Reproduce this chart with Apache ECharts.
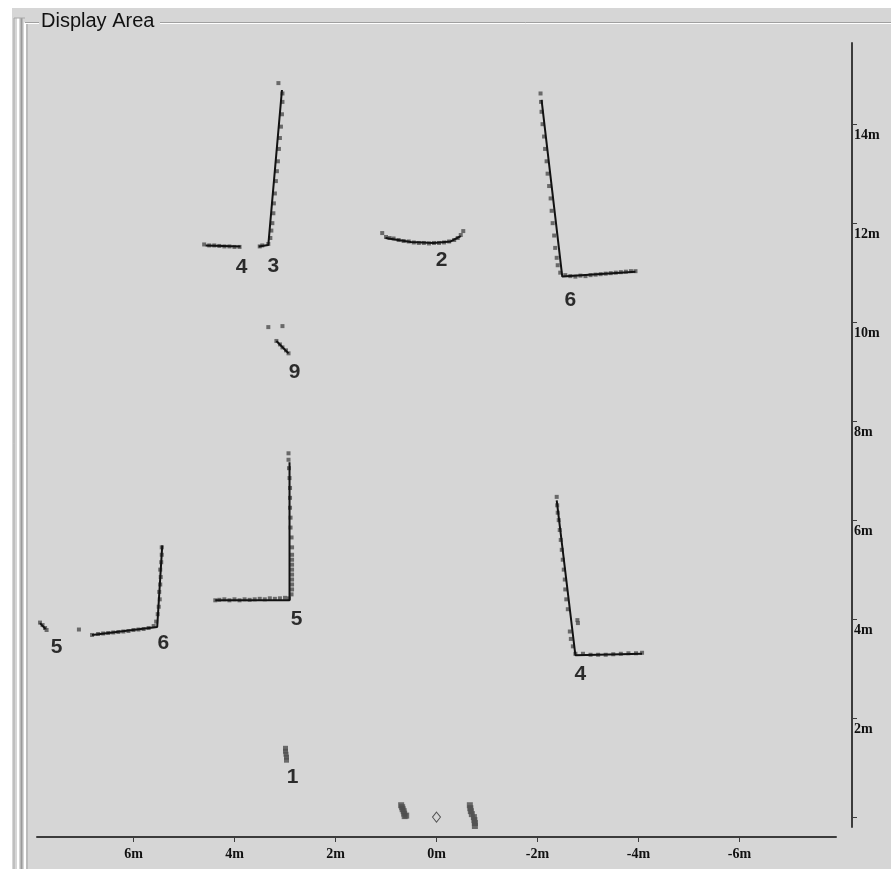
<!DOCTYPE html>
<html>
<head>
<meta charset="utf-8">
<script src="https://cdn.jsdelivr.net/npm/echarts@6.0.0/dist/echarts.min.js"></script>
<style>
html,body{margin:0;padding:0;background:#fff;}
#c{width:891px;height:869px;}
</style>
</head>
<body>
<div id="c"></div>
<script>
// ---- data (metres; x positive to the left) ----
var xTicks = [-6, -4, -2, 0, 2, 4, 6];
var yTicks = [0, 2, 4, 6, 8, 10, 12, 14];
var yTickLabels = [2, 4, 6, 8, 10, 12, 14];

var pts3 = [[3.13,14.83],[3.05,14.62],[3.05,14.45],[3.06,14.2],[3.08,13.95],[3.1,13.72],[3.12,13.5],[3.14,13.25],[3.16,13.05],[3.18,12.85],[3.2,12.6],[3.22,12.4],[3.23,12.2],[3.25,12.0],[3.27,11.85],[3.29,11.7],[3.33,11.58],[3.45,11.55],[3.5,11.53]];
var pts4a = [[4.6,11.57],[4.5,11.55],[4.4,11.55],[4.3,11.54],[4.2,11.53],[4.1,11.53],[4.0,11.52],[3.9,11.52]];
var pts2 = [[1.075,11.80],[1.0,11.72],[0.93,11.70],[0.85,11.69],[0.75,11.66],[0.65,11.64],[0.55,11.63],[0.45,11.61],[0.35,11.60],[0.25,11.60],[0.15,11.59],[0.05,11.60],[-0.05,11.60],[-0.15,11.61],[-0.25,11.63],[-0.35,11.66],[-0.42,11.70],[-0.48,11.76],[-0.53,11.84]];
var pts6a = [[-2.06,14.62],[-2.07,14.45],[-2.08,14.25],[-2.1,14.0],[-2.13,13.75],[-2.15,13.5],[-2.18,13.25],[-2.2,13.0],[-2.23,12.75],[-2.26,12.5],[-2.28,12.25],[-2.3,12.0],[-2.33,11.75],[-2.35,11.5],[-2.38,11.3],[-2.4,11.15],[-2.45,11.0],[-2.55,10.95],[-2.65,10.93],[-2.75,10.92],[-2.85,10.94],[-2.95,10.93],[-3.05,10.95],[-3.15,10.96],[-3.25,10.97],[-3.35,10.98],[-3.45,10.99],[-3.55,11.0],[-3.65,11.01],[-3.75,11.02],[-3.85,11.03],[-3.94,11.03]];
var pts9 = [[3.33,9.90],[3.05,9.92],[3.17,9.62],[3.1,9.55],[3.05,9.49],[2.98,9.43],[2.93,9.37]];
var pts5a = [[2.93,7.35],[2.93,7.22],[2.92,7.05],[2.91,6.85],[2.9,6.65],[2.9,6.45],[2.9,6.25],[2.89,6.05],[2.89,5.85],[2.87,5.65],[2.86,5.45],[2.86,5.3],[2.86,5.2],[2.86,5.1],[2.86,5.0],[2.86,4.9],[2.86,4.8],[2.86,4.7],[2.86,4.6],[2.87,4.5],[2.92,4.42],[3.0,4.43],[3.1,4.42],[3.2,4.41],[3.3,4.42],[3.4,4.40],[3.5,4.41],[3.6,4.40],[3.7,4.39],[3.8,4.40],[3.9,4.38],[4.0,4.40],[4.1,4.38],[4.2,4.40],[4.3,4.39],[4.38,4.38]];
var pts6b = [[5.44,5.45],[5.44,5.3],[5.45,5.15],[5.47,5.0],[5.46,4.85],[5.47,4.7],[5.49,4.55],[5.48,4.4],[5.5,4.25],[5.52,4.1],[5.55,3.95],[5.6,3.86],[5.7,3.82],[5.8,3.80],[5.9,3.79],[6.0,3.78],[6.1,3.76],[6.2,3.75],[6.3,3.74],[6.4,3.73],[6.5,3.72],[6.6,3.71],[6.7,3.70],[6.82,3.68],[7.08,3.79]];
var pts5b = [[7.85,3.93],[7.8,3.88],[7.75,3.82],[7.72,3.78]];
var pts4b = [[-2.38,6.47],[-2.39,6.3],[-2.40,6.15],[-2.42,6.0],[-2.44,5.8],[-2.46,5.6],[-2.48,5.4],[-2.5,5.2],[-2.52,5.0],[-2.54,4.8],[-2.55,4.6],[-2.57,4.4],[-2.6,4.2],[-2.79,3.98],[-2.8,3.92],[-2.64,3.75],[-2.66,3.6],[-2.7,3.45],[-2.75,3.3],[-2.9,3.3],[-3.05,3.28],[-3.2,3.28],[-3.35,3.28],[-3.5,3.29],[-3.65,3.3],[-3.8,3.31],[-3.95,3.31],[-4.07,3.32]];
var pts1 = [[2.99,1.39],[2.99,1.33],[2.98,1.27],[2.97,1.21],[2.97,1.15]];
var ptsNearL = [[0.70,0.24],[0.68,0.20],[0.67,0.16],[0.65,0.12],[0.64,0.07],[0.63,0.02],[0.60,0.03]];
var ptsNearR = [[-0.66,0.24],[-0.67,0.18],[-0.68,0.12],[-0.70,0.06],[-0.74,0.0],[-0.75,-0.06],[-0.76,-0.12],[-0.76,-0.18],[-0.77,-0.22]];

var line3 = [[3.06,14.69],[3.33,11.56],[3.52,11.53]];
var line4a = [[4.57,11.55],[3.88,11.53]];
var line2 = [[1.01,11.70],[0.51,11.62],[0.06,11.60],[-0.28,11.63],[-0.48,11.74]];
var line6a = [[-2.08,14.49],[-2.49,10.92],[-3.94,11.02]];
var line9 = [[3.17,9.62],[2.93,9.37]];
var line5a = [[2.91,7.17],[2.91,4.38],[4.38,4.38]];
var line6b = [[5.43,5.49],[5.53,3.84],[6.82,3.68]];
var line5b = [[7.85,3.92],[7.74,3.80]];
var line4b = [[-2.38,6.40],[-2.75,3.27],[-4.07,3.30]];

var sensor = [[0, 0]];

var labelText = ['4','3','2','6','9','5','5','6','4','1'];
var labelX = [3.86, 3.23, -0.10, -2.65, 2.81, 2.77, 7.52, 5.41, -2.85, 2.85];
var labelY = [11.11, 11.13, 11.25, 10.44, 8.99, 4.00, 3.43, 3.52, 2.89, 0.81];

// ---- chart ----
var chart = echarts.init(document.getElementById('c'), null, {renderer: 'canvas'});

var ptStyle = {color: '#4e4e4e'};
function ptSeries(d, size) {
  return {type: 'scatter', data: d, symbol: 'rect', symbolSize: size || 4,
    itemStyle: ptStyle, silent: true, animation: false, z: 2};
}
function lnSeries(d) {
  return {type: 'line', data: d, showSymbol: false, symbol: 'none',
    lineStyle: {color: '#121212', width: 2}, silent: true, animation: false, z: 3};
}
var labelData = labelText.map(function (t, i) { return {name: t, value: [labelX[i], labelY[i]]}; });

var series = [
  ptSeries(pts3), ptSeries(pts4a), ptSeries(pts2), ptSeries(pts6a), ptSeries(pts9),
  ptSeries(pts5a), ptSeries(pts6b), ptSeries(pts5b), ptSeries(pts4b),
  ptSeries(pts1, 5), ptSeries(ptsNearL, 6), ptSeries(ptsNearR, 6),
  lnSeries(line3), lnSeries(line4a), lnSeries(line2), lnSeries(line6a), lnSeries(line9),
  lnSeries(line5a), lnSeries(line6b), lnSeries(line5b), lnSeries(line4b),
  {type: 'scatter', data: sensor, symbol: 'diamond', symbolSize: [8, 10],
    itemStyle: {color: 'rgba(0,0,0,0)', borderColor: '#333', borderWidth: 1}, silent: true, animation: false, z: 4},
  {type: 'scatter', data: labelData, symbol: 'circle', symbolSize: 1,
    itemStyle: {color: 'rgba(0,0,0,0)'}, silent: true, animation: false, z: 5,
    label: {show: true, position: 'inside', formatter: function (p) { return p.name; },
      color: '#000', fontFamily: 'Liberation Sans, Arial, sans-serif', fontWeight: 'bold', fontSize: 21}}
];

var axisFont = {color: '#111', fontFamily: 'Liberation Serif, DejaVu Serif, serif', fontWeight: 'bold', fontSize: 14};

chart.setOption({
  backgroundColor: '#d6d6d6',
  animation: false,
  grid: {left: 37, right: 55, top: 43, bottom: 42, containLabel: false},
  xAxis: {
    type: 'value', min: -7.91, max: 7.91, inverse: true, position: 'bottom', offset: 10,
    axisLine: {show: true, onZero: false, lineStyle: {color: '#3c3c3c', width: 2}},
    axisTick: {show: true, length: 5, inside: false, customValues: xTicks, lineStyle: {color: '#3c3c3c', width: 1}},
    axisLabel: Object.assign({show: true, margin: 10, customValues: xTicks,
      formatter: function (v) { return v + 'm'; }}, axisFont),
    splitLine: {show: false}
  },
  yAxis: {
    type: 'value', min: -0.2, max: 15.64, position: 'right', offset: 16,
    axisLine: {show: true, onZero: false, lineStyle: {color: '#3c3c3c', width: 2}},
    axisTick: {show: true, length: 5, inside: false, customValues: yTicks, lineStyle: {color: '#3c3c3c', width: 1}},
    axisLabel: Object.assign({show: true, margin: 2, customValues: yTickLabels, verticalAlign: 'top', padding: [4, 0, 0, 0],
      formatter: function (v) { return v + 'm'; }}, axisFont),
    splitLine: {show: false}
  },
  graphic: [
    {type: 'rect', shape: {x: 0, y: 0, width: 891, height: 8}, style: {fill: '#ffffff'}, silent: true},
    {type: 'rect', shape: {x: 0, y: 0, width: 12, height: 869}, style: {fill: '#ffffff'}, silent: true},
    {type: 'line', shape: {x1: 14, y1: 18, x2: 14, y2: 869}, style: {stroke: '#a8a8a8', lineWidth: 1}, silent: true},
    {type: 'line', shape: {x1: 18, y1: 18, x2: 18, y2: 869}, style: {stroke: '#ffffff', lineWidth: 2}, silent: true},
    {type: 'line', shape: {x1: 21.5, y1: 18, x2: 21.5, y2: 869}, style: {stroke: '#9a9a9a', lineWidth: 2}, silent: true},
    {type: 'line', shape: {x1: 14, y1: 18, x2: 25, y2: 18}, style: {stroke: '#a8a8a8', lineWidth: 1}, silent: true},
    {type: 'line', shape: {x1: 25, y1: 22.5, x2: 25, y2: 869}, style: {stroke: '#ffffff', lineWidth: 2}, silent: true},
    {type: 'line', shape: {x1: 27, y1: 22.5, x2: 27, y2: 869}, style: {stroke: '#a0a0a0', lineWidth: 1}, silent: true},
    {type: 'line', shape: {x1: 25, y1: 22.5, x2: 39, y2: 22.5}, style: {stroke: '#a0a0a0', lineWidth: 1}, silent: true},
    {type: 'line', shape: {x1: 25, y1: 23.5, x2: 39, y2: 23.5}, style: {stroke: '#ffffff', lineWidth: 1}, silent: true},
    {type: 'line', shape: {x1: 160, y1: 22.5, x2: 891, y2: 22.5}, style: {stroke: '#a0a0a0', lineWidth: 1}, silent: true},
    {type: 'line', shape: {x1: 160, y1: 23.5, x2: 891, y2: 23.5}, style: {stroke: '#ffffff', lineWidth: 1}, silent: true},
    {type: 'text', x: 41, y: 11, style: {text: 'Display Area', fill: '#111', font: '20px "Liberation Sans", Arial, sans-serif'}, silent: true}
  ],
  series: series
});
</script>
</body>
</html>
